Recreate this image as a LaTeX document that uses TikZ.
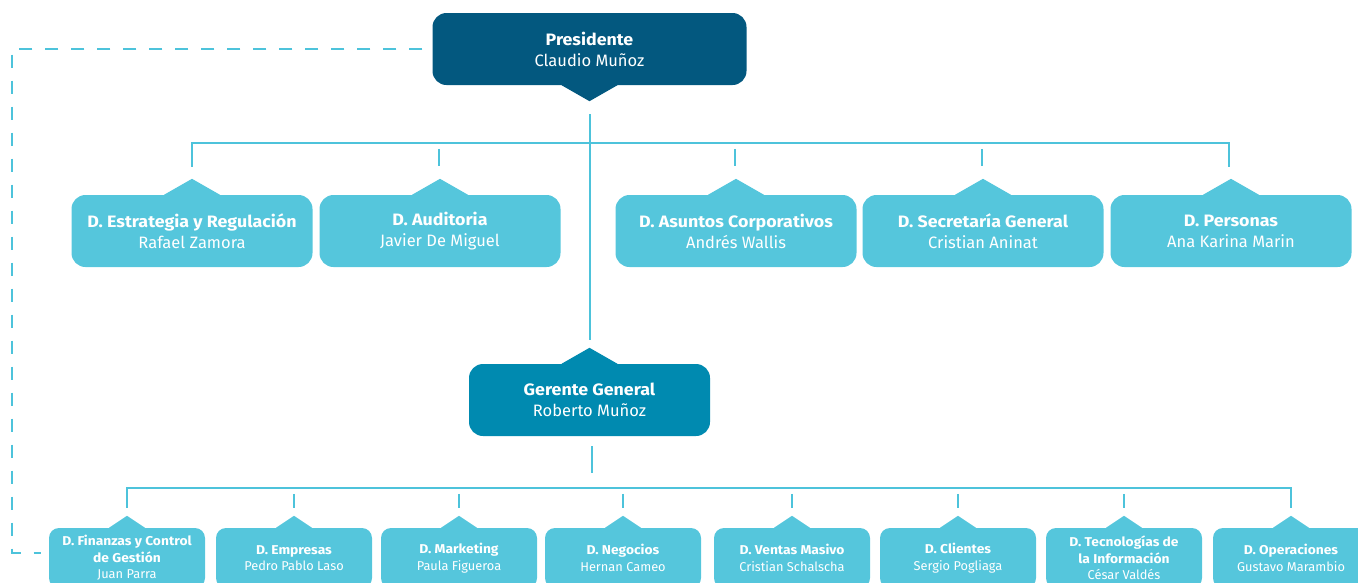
\documentclass[tikz,border=0pt]{standalone}
\usepackage{fontspec}
\setmainfont{Fira Sans}[BoldFeatures={FakeStretch=1.08}]
\usetikzlibrary{calc}
\definecolor{darkblue}{HTML}{03587F}
\definecolor{midblue}{HTML}{008AB0}
\definecolor{lightbox}{HTML}{55C6DC}
\definecolor{linec}{HTML}{4DC3DB}
\newcommand{\ptrup}[4]{\fill[#4] ([xshift=-#2]#1.north) -- ([yshift=#3]#1.north) -- ([xshift=#2]#1.north) -- cycle;}
\begin{document}
\begin{tikzpicture}[x=1pt,y=-1pt,
  bigbox/.style={rounded corners=14pt, text=white, align=center, inner sep=0pt,
    minimum height=72pt, minimum width=241pt, font=\fontsize{16.5}{21}\selectfont},
  smallbox/.style={rounded corners=10pt, fill=lightbox, text=white, align=center, inner sep=0pt,
    minimum height=60pt, minimum width=156pt, font=\fontsize{12.8}{16.5}\selectfont},
  conn/.style={draw=linec, line width=2pt},
  dashconn/.style={draw=linec, line width=2pt, dash pattern=on 13pt off 13pt}]
\useasboundingbox (0,0) rectangle (1358,582);
\clip (0,0) rectangle (1358,582);

% President
\node[bigbox, fill=darkblue, minimum width=314pt] (pres) at (589.5,49)
  {\textbf{Presidente}\\Claudio Muñoz};
\fill[darkblue] ([xshift=-28pt]pres.south) -- ([yshift=-16pt]pres.south) -- ([xshift=28pt]pres.south) -- cycle;

% Top row
\node[bigbox, fill=lightbox] (d1) at (192,231) {\textbf{D. Estrategia y Regulación}\\Rafael Zamora};
\node[bigbox, fill=lightbox] (d2) at (440,231) {\textbf{D. Auditoria}\\Javier De Miguel};
\node[bigbox, fill=lightbox] (d3) at (736,231) {\textbf{D. Asuntos Corporativos}\\Andrés Wallis};
\node[bigbox, fill=lightbox] (d4) at (983,231) {\textbf{D. Secretaría General}\\Cristian Aninat};
\node[bigbox, fill=lightbox] (d5) at (1231,231) {\textbf{D. Personas}\\Ana Karina Marin};
\foreach \n in {d1,d2,d3,d4,d5} {\ptrup{\n}{28pt}{16pt}{lightbox}}

% Gerente
\node[bigbox, fill=midblue] (ger) at (589.5,400) {\textbf{Gerente General}\\Roberto Muñoz};
\ptrup{ger}{28pt}{16pt}{midblue}

% Bottom row
\node[smallbox] (f1) at (127,558) {\textbf{D. Finanzas y Control}\\\textbf{de Gestión}\\Juan Parra};
\node[smallbox] (f2) at (294,558) {\textbf{D. Empresas}\\Pedro Pablo Laso};
\node[smallbox] (f3) at (459,558) {\textbf{D. Marketing}\\Paula Figueroa};
\node[smallbox] (f4) at (623,558) {\textbf{D. Negocios}\\Hernan Cameo};
\node[smallbox] (f5) at (792,558) {\textbf{D. Ventas Masivo}\\Cristian Schalscha};
\node[smallbox] (f6) at (958,558) {\textbf{D. Clientes}\\Sergio Pogliaga};
\node[smallbox] (f7) at (1124,558) {\textbf{D. Tecnologías de}\\\textbf{la Información}\\César Valdés};
\node[smallbox] (f8) at (1291,558) {\textbf{D. Operaciones}\\Gustavo Marambio};
\foreach \n in {f1,f2,f3,f4,f5,f6,f7,f8} {\ptrup{\n}{18pt}{12pt}{lightbox}}

% Connectors: president -> gerente
\draw[conn] ([yshift=-29pt]pres.south) -- ([yshift=24pt]ger.north);
% top bus
\draw[conn] ([yshift=28pt]d1.north) |- ([xshift=-2pt,yshift=52pt]d5.north) -- ([xshift=-2pt,yshift=28pt]d5.north);
\foreach \n in {d2,d3,d4} {\draw[conn] ([xshift=-1pt,yshift=46pt]\n.north) -- ([xshift=-1pt,yshift=29pt]\n.north);}
% bottom bus
\draw[conn] ([xshift=2pt,yshift=-10pt]ger.south) -- ([xshift=2pt,yshift=-37pt]ger.south);
\draw[conn] ([yshift=20pt]f1.north) |- ([yshift=40pt]f8.north) -- ([yshift=20pt]f8.north);
\foreach \n in {f2,f3,f4,f5,f6,f7} {\draw[conn] ([yshift=34pt]\n.north) -- ([yshift=20pt]\n.north);}
% dashed link
\coordinate (dcorner) at (12,553);
\draw[dashconn] ([xshift=-10pt]pres.west) -| (dcorner) -- ([xshift=-8pt,yshift=5pt]f1.west);
\end{tikzpicture}
\end{document}
